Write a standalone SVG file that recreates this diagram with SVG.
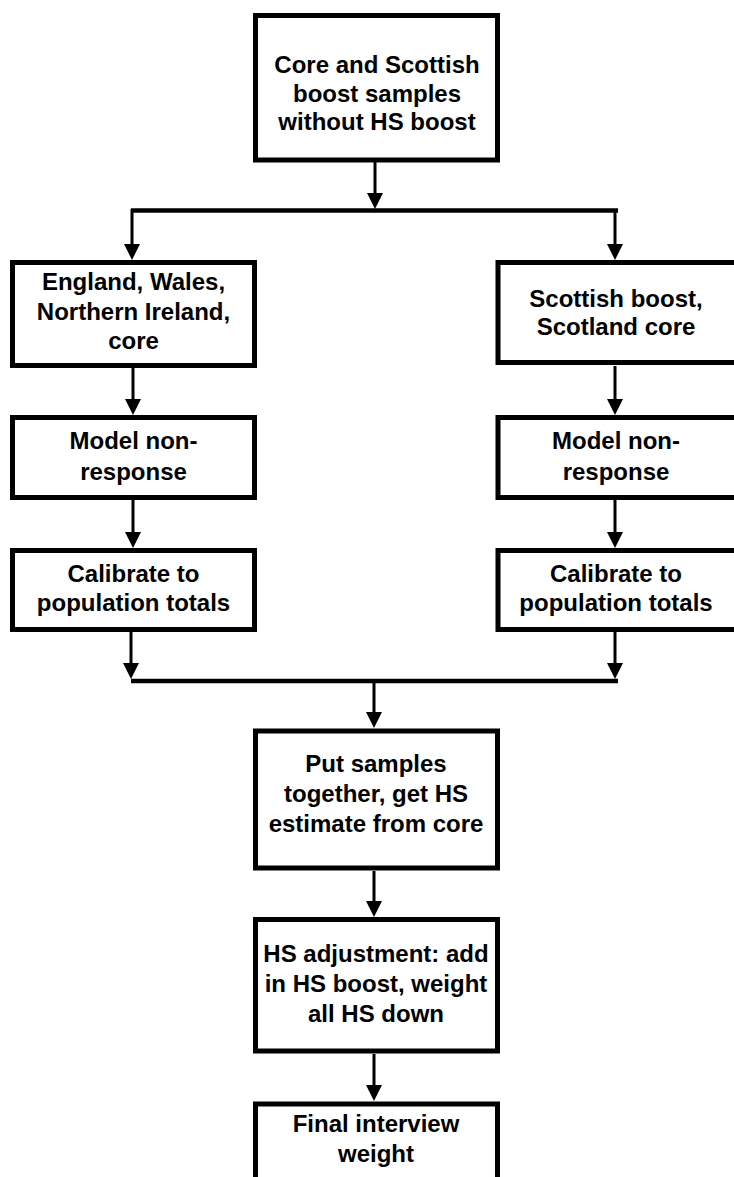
<svg xmlns="http://www.w3.org/2000/svg" width="734" height="1177" viewBox="0 0 734 1177">
<style>
.box{fill:#fff;stroke:#000;stroke-width:5}
.lbl{font-family:"Liberation Sans",Arial,sans-serif;font-weight:bold;font-size:24px;fill:#000;text-anchor:middle}
.conn{stroke:#000;stroke-width:3;fill:none}
.bar{stroke:#000;stroke-width:4.5;fill:none}
</style>
<defs>
<marker id="ah" markerUnits="userSpaceOnUse" markerWidth="16" markerHeight="16" refX="12" refY="8" orient="auto" viewBox="0 0 16 16">
<path d="M0,0 L16,8 L0,16 z" fill="#000"/>
</marker>
</defs>
<rect width="734" height="1177" fill="#fff"/>
<g id="connectors">
<line class="conn" x1="375" y1="162" x2="375" y2="205" marker-end="url(#ah)"/>
<line class="bar" x1="131" y1="210.5" x2="618" y2="210.5"/>
<line class="conn" x1="132" y1="209" x2="132" y2="256" marker-end="url(#ah)"/>
<line class="conn" x1="615" y1="209" x2="615" y2="256" marker-end="url(#ah)"/>
<line class="conn" x1="133" y1="368" x2="133" y2="411" marker-end="url(#ah)"/>
<line class="conn" x1="615" y1="366" x2="615" y2="411" marker-end="url(#ah)"/>
<line class="conn" x1="133" y1="500" x2="133" y2="544" marker-end="url(#ah)"/>
<line class="conn" x1="615" y1="500" x2="615" y2="544" marker-end="url(#ah)"/>
<line class="conn" x1="131" y1="632" x2="131" y2="675" marker-end="url(#ah)"/>
<line class="conn" x1="615" y1="632" x2="615" y2="675" marker-end="url(#ah)"/>
<line class="bar" x1="131" y1="681" x2="618" y2="681"/>
<line class="conn" x1="374" y1="681" x2="374" y2="724" marker-end="url(#ah)"/>
<line class="conn" x1="374" y1="871" x2="374" y2="913" marker-end="url(#ah)"/>
<line class="conn" x1="374" y1="1054" x2="374" y2="1097" marker-end="url(#ah)"/>
</g>
<g id="n-top">
<rect class="box" x="255.5" y="15.5" width="242" height="144.5"/>
<text class="lbl" x="377" y="73">Core and Scottish</text>
<text class="lbl" x="377" y="102">boost samples</text>
<text class="lbl" x="377" y="130">without HS boost</text>
</g>
<g id="n-ewni">
<rect class="box" x="12.5" y="262.5" width="242" height="103"/>
<text class="lbl" x="133.5" y="290">England, Wales,</text>
<text class="lbl" x="133.5" y="320">Northern Ireland,</text>
<text class="lbl" x="133.5" y="349">core</text>
</g>
<g id="n-scot">
<rect class="box" x="498" y="262.5" width="242" height="100"/>
<text class="lbl" x="616" y="307">Scottish boost,</text>
<text class="lbl" x="616" y="335">Scotland core</text>
</g>
<g id="n-model-l">
<rect class="box" x="12.5" y="417.5" width="242" height="80"/>
<text class="lbl" x="133.5" y="449">Model non-</text>
<text class="lbl" x="133.5" y="480">response</text>
</g>
<g id="n-model-r">
<rect class="box" x="498" y="417.5" width="242" height="80"/>
<text class="lbl" x="616" y="449">Model non-</text>
<text class="lbl" x="616" y="480">response</text>
</g>
<g id="n-cal-l">
<rect class="box" x="12.5" y="550.5" width="242" height="79"/>
<text class="lbl" x="133.5" y="582">Calibrate to</text>
<text class="lbl" x="133.5" y="611">population totals</text>
</g>
<g id="n-cal-r">
<rect class="box" x="498" y="550.5" width="242" height="79"/>
<text class="lbl" x="616" y="582">Calibrate to</text>
<text class="lbl" x="616" y="611">population totals</text>
</g>
<g id="n-put">
<rect class="box" x="255.5" y="731" width="242" height="137"/>
<text class="lbl" x="376" y="772">Put samples</text>
<text class="lbl" x="376" y="802">together, get HS</text>
<text class="lbl" x="376" y="832">estimate from core</text>
</g>
<g id="n-hs">
<rect class="box" x="255.5" y="919.5" width="242" height="131.5"/>
<text class="lbl" x="376" y="962">HS adjustment: add</text>
<text class="lbl" x="376" y="992">in HS boost, weight</text>
<text class="lbl" x="376" y="1022">all HS down</text>
</g>
<g id="n-final">
<rect class="box" x="255.5" y="1104" width="242" height="100"/>
<text class="lbl" x="376" y="1132">Final interview</text>
<text class="lbl" x="376" y="1162">weight</text>
</g>
</svg>
